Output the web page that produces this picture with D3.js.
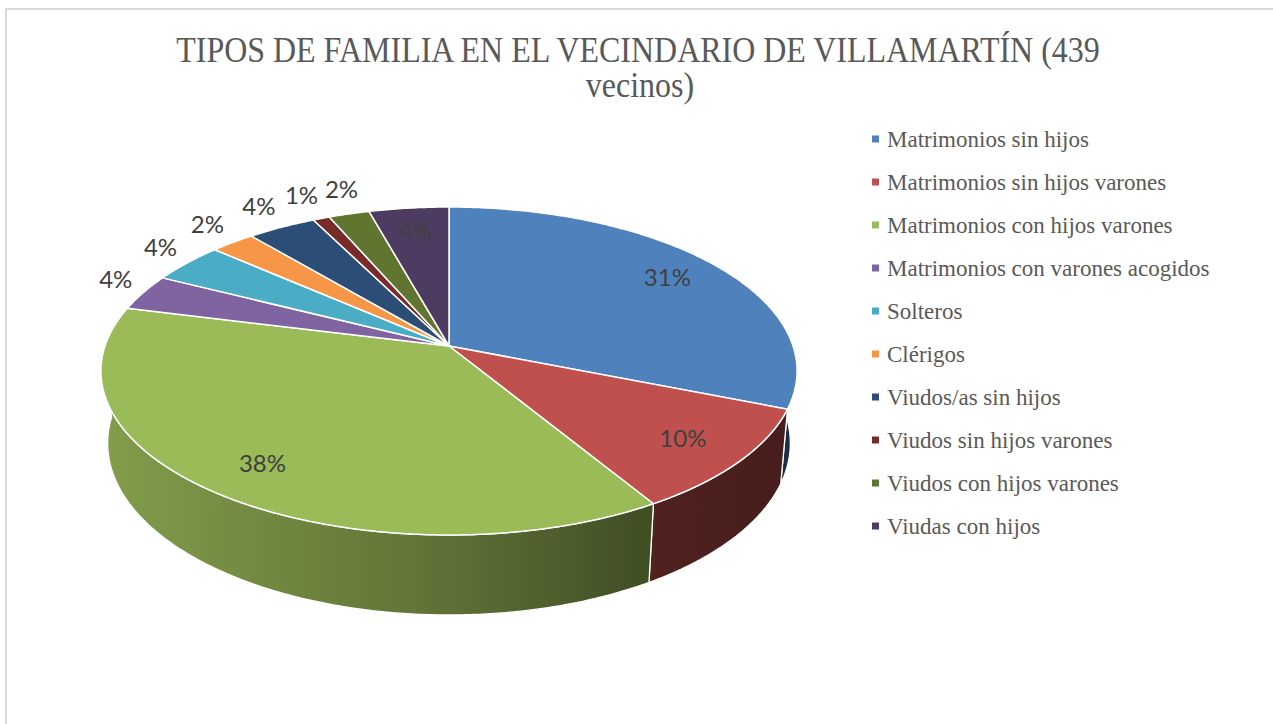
<!DOCTYPE html>
<html>
<head>
<meta charset="utf-8">
<script src="https://cdn.jsdelivr.net/npm/d3@7"></script>
<style>
  body { margin: 0; background: #fff; }
  svg { display: block; }
</style>
</head>
<body>
<svg width="1273" height="724"></svg>
<script>
// data (share of families, in %)
var categories = ["Matrimonios sin hijos", "Matrimonios sin hijos varones", "Matrimonios con hijos varones",
    "Matrimonios con varones acogidos", "Solteros", "Clérigos", "Viudos/as sin hijos",
    "Viudos sin hijos varones", "Viudos con hijos varones", "Viudas con hijos"];
var values = [31.1, 10.3, 37.6, 3.6, 4.0, 2.4, 3.7, 0.9, 2.2, 4.3];
var colors = ["#4F81BD", "#C0504D", "#9BBB59", "#8064A2", "#4BACC6", "#F79646",
    "#2C4D75", "#772C2A", "#5F7530", "#4D3B62"];
var titleLines = ["TIPOS DE FAMILIA EN EL VECINDARIO DE VILLAMARTÍN (439", "vecinos)"];

function main() {
    var svg = d3.select("svg");

    // chart frame
    svg.append("rect")
       .attr("x", 6).attr("y", 9)
       .attr("width", 1300).attr("height", 800)
       .attr("fill", "none")
       .attr("stroke", "#d9d9d9")
       .attr("stroke-width", 2);

    // title, condensed serif
    var title = svg.append("g");
    var t1 = title.append("text")
       .attr("font-family", "'Liberation Serif', serif")
       .attr("font-size", "35px")
       .attr("fill", "#595959")
       .attr("text-anchor", "middle")
       .text(titleLines[0]);
    var k = 924 / t1.node().getComputedTextLength();
    t1.attr("transform", "translate(638,62) scale(" + k + ",1)");
    title.append("text")
       .attr("font-family", "'Liberation Serif', serif")
       .attr("font-size", "35px")
       .attr("fill", "#595959")
       .attr("text-anchor", "middle")
       .attr("transform", "translate(640,97) scale(" + k + ",1)")
       .text(titleLines[1]);

    // 3d perspective projection of the pie
    var cx = 449, cy = 346,
        R = 0.1723, H = 0.0413,
        F = 344 / R,
        phi = 27.75 * Math.PI / 180,
        sp = Math.sin(phi), cp = Math.cos(phi);

    function project(a, rho, depth) {
        var x3 = rho * R * Math.sin(a),
            z3 = rho * R * Math.cos(a),
            y3 = -depth * H;
        var yc = y3 * cp + z3 * sp,
            zc = 1 + z3 * cp - y3 * sp;
        return [cx + F * x3 / zc, cy - F * yc / zc];
    }

    function arcPoints(a0, a1, depth) {
        var n = Math.max(2, Math.ceil(Math.abs(a1 - a0) / 0.01)), pts = [];
        for (var i = 0; i <= n; i++) pts.push(project(a0 + (a1 - a0) * i / n, 1, depth));
        return pts;
    }

    var line = d3.line();
    var pie = d3.pie().sort(null).value(function(d) { return d; });
    var arcs = pie(values);
    var total = d3.sum(values);
    var fmt = d3.format(".0%");

    // side shading
    var defs = svg.append("defs");
    colors.forEach(function(c, i) {
        var g = defs.append("linearGradient")
           .attr("id", "side" + i)
           .attr("gradientUnits", "userSpaceOnUse")
           .attr("x1", 101).attr("x2", 797).attr("y1", 0).attr("y2", 0);
        [[0, 0.84], [0.45, 0.63], [0.78, 0.42], [1, 0.36]].forEach(function(s) {
            var col = d3.rgb(c);
            g.append("stop")
             .attr("offset", s[0])
             .attr("stop-color", d3.rgb(col.r * s[1], col.g * s[1], col.b * s[1]));
        });
    });

    var chart = svg.append("g");

    // outer walls (front half only)
    chart.selectAll(".wall")
       .data(arcs.filter(function(d) { return d.endAngle > Math.PI / 2 && d.startAngle < 3 * Math.PI / 2; }))
       .enter().append("path")
       .attr("class", "wall")
       .attr("d", function(d) {
           var a0 = Math.max(d.startAngle, Math.PI / 2),
               a1 = Math.min(d.endAngle, 3 * Math.PI / 2);
           return line(arcPoints(a0, a1, 0).concat(arcPoints(a1, a0, 1))) + "Z";
       })
       .attr("fill", function(d) { return "url(#side" + d.index + ")"; })
       .attr("stroke", "#fff")
       .attr("stroke-width", 1.3)
       .attr("stroke-linejoin", "round");

    // top faces
    chart.selectAll(".slice")
       .data(arcs)
       .enter().append("path")
       .attr("class", "slice")
       .attr("d", function(d) {
           return line([project(0, 0, 0)].concat(arcPoints(d.startAngle, d.endAngle, 0))) + "Z";
       })
       .attr("fill", function(d) { return colors[d.index]; })
       .attr("stroke", "#fff")
       .attr("stroke-width", 1.5)
       .attr("stroke-linejoin", "round");

    // label positions: big slices inside, small ones outside the rim
    var prev = null;
    arcs.forEach(function(d) {
        var mid = (d.startAngle + d.endAngle) / 2;
        if (d.endAngle - d.startAngle > 0.26) {
            d.lab = project(mid, 0.82, 0);
            return;
        }
        var p = project(mid, 1, 0),
            dx = p[0] - cx, dy = p[1] - cy,
            len = Math.sqrt(dx * dx + dy * dy);
        var q = [p[0] + dx / len * 28, p[1] + dy / len * 18 - 10];
        // push apart labels that would collide
        if (prev && Math.abs(q[0] - prev[0]) < 40 && Math.abs(q[1] - prev[1]) < 20) {
            q[0] = prev[0] + 40;
        }
        prev = q;
        d.lab = q;
    });

    chart.selectAll(".label")
       .data(arcs)
       .enter().append("text")
       .attr("class", "label")
       .attr("font-family", "Lato, sans-serif")
       .attr("font-size", "24px")
       .attr("fill", "#404040")
       .attr("text-anchor", "middle")
       .attr("dy", "0.35em")
       .attr("transform", function(d) { return "translate(" + d.lab + ")"; })
       .text(function(d) { return fmt(d.value / total); });

    // legend
    var legend = svg.append("g")
       .attr("transform", "translate(872,139)");
    var item = legend.selectAll(".item")
       .data(categories)
       .enter().append("g")
       .attr("class", "item")
       .attr("transform", function(d, i) { return "translate(0," + i * 43 + ")"; });
    item.append("rect")
       .attr("x", 0).attr("y", -3.5)
       .attr("width", 7).attr("height", 7)
       .attr("fill", function(d, i) { return colors[i]; });
    item.append("text")
       .attr("x", 15)
       .attr("dy", "0.33em")
       .attr("font-family", "'Liberation Serif', serif")
       .attr("font-size", "23px")
       .attr("fill", "#595959")
       .text(function(d) { return d; });
}
main();
</script>
</body>
</html>
